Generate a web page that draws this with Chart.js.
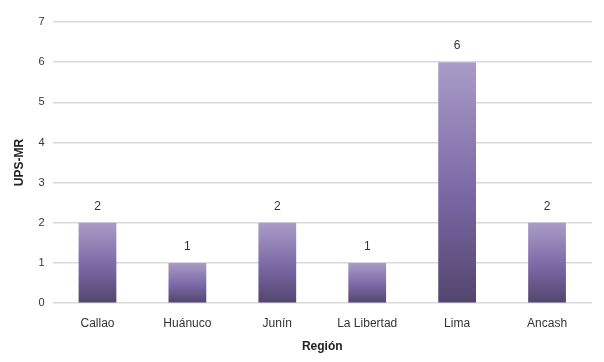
<!DOCTYPE html>
<html>
<head>
<meta charset="utf-8">
<script src="https://cdn.jsdelivr.net/npm/chart.js@4.4.1/dist/chart.umd.min.js"></script>
<style>
  html, body { margin: 0; padding: 0; background: #fff; }
  #wrap { width: 604px; height: 362px; }
</style>
</head>
<body>
<div id="wrap"><canvas id="chart"></canvas></div>
<script>
const regions = ['Callao', 'Huánuco', 'Junín', 'La Libertad', 'Lima', 'Ancash'];
const upsValues = [2, 1, 2, 1, 6, 2];
const yTicks = [0, 1, 2, 3, 4, 5, 6, 7];

const ctx = document.getElementById('chart').getContext('2d');

// vertical gradient per bar, light at the top and dark at the base
function barGradient(context) {
    const chart = context.chart;
    const yScale = chart.scales.y;
    if (!chart.chartArea || !yScale || context.raw == null) return '#7b68a6';
    const top = yScale.getPixelForValue(context.raw);
    const bottom = yScale.getPixelForValue(0);
    if (!isFinite(top) || !isFinite(bottom) || top === bottom) return '#7b68a6';
    const g = chart.ctx.createLinearGradient(0, top, 0, bottom);
    g.addColorStop(0, '#a99cc7');
    g.addColorStop(0.55, '#7a68a5');
    g.addColorStop(1, '#52456d');
    return g;
}

const valueLabels = {
    id: 'valueLabels',
    afterDatasetsDraw(chart) {
        const c = chart.ctx;
        const meta = chart.getDatasetMeta(0);
        c.save();
        c.font = '12px "Liberation Sans", Arial, sans-serif';
        c.fillStyle = '#333';
        c.textAlign = 'center';
        c.textBaseline = 'bottom';
        meta.data.forEach((bar, i) => {
            c.fillText(upsValues[i], bar.x, bar.y - 10);
        });
        c.restore();
    }
};

Chart.defaults.font.family = '"Liberation Sans", Arial, sans-serif';
Chart.defaults.color = '#333';

new Chart(ctx, {
    type: 'bar',
    data: {
        labels: regions,
        datasets: [{
            label: 'UPS-MR',
            data: upsValues,
            backgroundColor: barGradient,
            barPercentage: 0.42,
            categoryPercentage: 1.0
        }]
    },
    options: {
        responsive: true,
        maintainAspectRatio: false,
        animation: false,
        layout: { padding: { top: 22, right: 12, bottom: 4, left: 8 } },
        plugins: {
            legend: { display: false },
            tooltip: { enabled: false }
        },
        scales: {
            x: {
                grid: { display: false },
                border: { display: false },
                ticks: { font: { size: 12 }, padding: 5, color: '#333' },
                title: { display: true, text: 'Región', font: { size: 12, weight: 'bold' }, color: '#222', padding: { top: 4, bottom: 4 } }
            },
            y: {
                min: 0,
                max: 7,
                afterBuildTicks(axis) { axis.ticks = yTicks.map(v => ({ value: v })); },
                grid: { color: '#d9d9d9', lineWidth: 1.5, drawTicks: false },
                border: { display: false },
                ticks: { font: { size: 11 }, padding: 8, color: '#333' },
                title: { display: true, text: 'UPS-MR', font: { size: 12, weight: 'bold' }, color: '#222', padding: { top: 4, bottom: 4 } }
            }
        }
    },
    plugins: [valueLabels]
});
</script>
</body>
</html>
